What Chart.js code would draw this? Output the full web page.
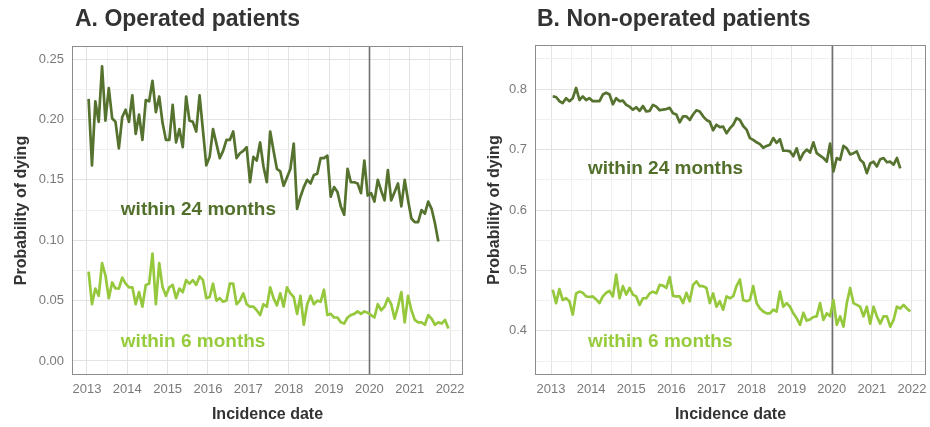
<!DOCTYPE html>
<html>
<head>
<meta charset="utf-8">
<script src="https://cdn.jsdelivr.net/npm/chart.js@4.4.1/dist/chart.umd.min.js"></script>
<style>
body{margin:0;background:#fff;width:930px;height:427px;overflow:hidden;position:relative}
canvas{position:absolute;top:0}
#chartA{left:0}
#chartB{left:465px}
</style>
</head>
<body>
<canvas id="chartA" width="465" height="427"></canvas>
<canvas id="chartB" width="465" height="427"></canvas>
<script>
// monthly estimates, starting Jan 2013
const startYear = 2013
const years = [2013, 2014, 2015, 2016, 2017, 2018, 2019, 2020, 2021, 2022]
const yTicksA = [0, 0.05, 0.10, 0.15, 0.20, 0.25]
const yTicksB = [0.4, 0.5, 0.6, 0.7, 0.8]

// A. operated patients
const op24 = [.217,.162,.215,.198,.244,.199,.226,.201,.198,.176,
  .202,.208,.198,.220,.188,.204,.183,.216,.215,.232,
  .206,.219,.197,.183,.183,.212,.181,.192,.177,.219,
  .199,.198,.190,.220,.191,.162,.169,.192,.180,.168,
  .174,.183,.183,.190,.168,.172,.174,.177,.148,.169,
  .166,.181,.161,.148,.190,.174,.159,.157,.145,.152,
  .159,.180,.126,.136,.144,.150,.147,.154,.155,.168,
  .168,.170,.136,.144,.140,.128,.121,.159,.148,.148,
  .147,.139,.166,.137,.139,.132,.150,.141,.133,.158,
  .133,.140,.147,.128,.150,.133,.118,.115,.115,.125,
  .122,.132,.126,.114,.099]
const op6 = [.074,.047,.060,.054,.081,.071,.052,.065,.060,.060,
  .069,.064,.061,.061,.047,.057,.045,.063,.064,.089,
  .047,.081,.061,.054,.061,.063,.052,.060,.057,.067,
  .064,.067,.063,.070,.067,.052,.053,.064,.050,.052,
  .049,.050,.064,.064,.047,.050,.056,.047,.045,.045,
  .042,.038,.047,.045,.061,.052,.046,.056,.045,.061,
  .056,.053,.039,.054,.030,.047,.054,.047,.050,.049,
  .059,.038,.039,.036,.036,.032,.031,.036,.038,.039,
  .041,.039,.041,.040,.038,.036,.047,.042,.045,.052,
  .047,.035,.045,.057,.032,.054,.042,.034,.032,.032,
  .030,.038,.035,.030,.032,.031,.034,.027]

// B. non-operated patients
const nonop24 = [.788,.787,.780,.777,.785,.780,.785,.802,.782,.788,
  .782,.785,.780,.780,.780,.791,.794,.791,.775,.785,
  .780,.781,.774,.771,.766,.770,.764,.772,.763,.764,
  .774,.771,.765,.766,.767,.769,.760,.758,.745,.755,
  .755,.749,.758,.765,.763,.755,.749,.746,.732,.741,
  .737,.738,.727,.735,.741,.752,.749,.739,.733,.719,
  .716,.712,.709,.703,.706,.708,.719,.711,.717,
  .698,.698,.697,.689,.702,.683,.694,.700,.695,.712,
  .694,.690,.686,.680,.710,.664,.686,.683,.706,.702,
  .692,.694,.697,.683,.678,.661,.677,.680,.672,.684,
  .686,.679,.680,.675,.686,.669]
const nonop6 = [.468,.446,.469,.451,.454,.449,.427,.462,.465,.463,
  .457,.456,.457,.452,.446,.457,.463,.466,.457,.493,
  .454,.474,.460,.471,.460,.457,.443,.454,.454,.462,
  .465,.462,.476,.475,.471,.489,.458,.457,.457,.446,
  .463,.449,.476,.482,.474,.474,.471,.446,.462,.440,
  .449,.435,.457,.454,.457,.474,.485,.451,.449,.451,
  .474,.446,.437,.432,.429,.429,.435,.432,.465,.440,
  .446,.440,.429,.421,.410,.430,.417,.419,.423,.424,
  .446,.418,.429,.424,.451,.410,.424,.407,.446,.471,
  .446,.443,.440,.424,.440,.412,.440,.424,.412,.424,
  .424,.407,.418,.440,.437,.443,.437,.432]

const darkGreen = '#55722e'
const lightGreen = '#95c83c'

Chart.defaults.font.family = "'Liberation Sans', Arial, sans-serif"

function monthly(vals) {
  return vals.map((v, i) => ({ x: startYear + (i + 0.5) / 12, y: v }))
}

// major ticks get a label, half steps are minor grid lines only
function withMinor(major, min, max) {
  let step = major[1] - major[0]
  let out = []
  for (let k = -1; k <= 2 * (major.length - 1) + 1; k++) {
    let v = major[0] + k * step / 2
    if (v >= min && v <= max) out.push({ value: v, lbl: k % 2 == 0 })
  }
  return out
}

// ticks labels may hang outside the box, don't let them shrink the plot
function noPad(s) {
  s.paddingLeft = 0
  s.paddingRight = 0
  s.paddingTop = 0
  s.paddingBottom = 0
}

const panelDeco = {
  id: 'panelDeco',
  beforeDatasetsDraw(chart, args, o) {
    const { ctx, chartArea: a, scales: { x } } = chart
    let px = Math.round(x.getPixelForValue(o.vline)) + 0.5
    ctx.save()
    ctx.strokeStyle = '#707070'
    ctx.lineWidth = 1.6
    ctx.beginPath()
    ctx.moveTo(px, a.top)
    ctx.lineTo(px, a.bottom)
    ctx.stroke()
    ctx.restore()
  },
  afterDraw(chart, args, o) {
    const { ctx, chartArea: a, scales: { x, y } } = chart
    ctx.save()
    ctx.strokeStyle = '#8c8c8c'
    ctx.lineWidth = 1
    ctx.strokeRect(a.left + 0.5, a.top + 0.5, a.right - a.left - 1, a.bottom - a.top - 1)
    ctx.fillStyle = '#333'
    ctx.font = "bold 23px 'Liberation Sans', Arial"
    ctx.textBaseline = 'alphabetic'
    ctx.fillText(o.title, o.titleX, 26)
    ctx.font = "bold 19px 'Liberation Sans', Arial"
    ctx.textBaseline = 'middle'
    o.labels.forEach(l => {
      ctx.fillStyle = l.color
      ctx.fillText(l.text, x.getPixelForValue(l.x), y.getPixelForValue(l.y))
    })
    ctx.restore()
  }
}

function makePanel(id, p) {
  const xTicks = withMinor(years, p.xMin, p.xMax)
  const yTicks = withMinor(p.yTicks, p.yMin, p.yMax)
  const gridColor = c => (c.tick && c.tick.lbl) ? '#e3e3e3' : '#f0f0f0'
  return new Chart(document.getElementById(id), {
    type: 'line',
    data: {
      datasets: [
        { data: monthly(p.s6), borderColor: lightGreen, borderWidth: 2.7, pointRadius: 0, borderJoinStyle: 'round' },
        { data: monthly(p.s24), borderColor: darkGreen, borderWidth: 2.7, pointRadius: 0, borderJoinStyle: 'round' }
      ]
    },
    options: {
      responsive: false,
      animation: false,
      devicePixelRatio: 1,
      layout: { padding: { top: p.top, right: p.right, left: 0, bottom: 0 } },
      plugins: {
        legend: { display: false },
        tooltip: { enabled: false },
        panelDeco: {
          vline: 2020,
          title: p.title,
          titleX: p.titleX,
          labels: [
            { text: 'within 24 months', x: p.labX, y: p.lab24, color: '#52702b' },
            { text: 'within 6 months', x: p.labX, y: p.lab6, color: '#96cc3c' }
          ]
        }
      },
      scales: {
        x: {
          type: 'linear', min: p.xMin, max: p.xMax,
          afterBuildTicks: s => { s.ticks = xTicks.map(t => ({ ...t })) },
          afterFit: s => { s.height = 52; noPad(s) },
          ticks: { autoSkip: false, maxRotation: 0, padding: 7, color: '#7a7a7a', font: { size: 13 },
            callback: (v, i, t) => t[i].lbl ? String(v) : '' },
          grid: { drawTicks: false, color: gridColor },
          border: { display: false },
          title: { display: true, text: 'Incidence date', color: '#333', font: { size: 16, weight: 'bold' }, padding: { top: 0, bottom: 3 } }
        },
        y: {
          min: p.yMin, max: p.yMax,
          afterBuildTicks: s => { s.ticks = yTicks.map(t => ({ ...t })) },
          afterFit: s => { s.width = p.yWidth; noPad(s) },
          ticks: { autoSkip: false, padding: 8, color: '#7a7a7a', font: { size: 13 },
            callback: (v, i, t) => t[i].lbl ? v.toFixed(p.dec) : '' },
          grid: { drawTicks: false, color: gridColor },
          border: { display: false },
          title: { display: true, text: 'Probability of dying', color: '#333', font: { size: 16, weight: 'bold' }, padding: { top: p.yTitlePad, bottom: 0 } }
        }
      }
    },
    plugins: [panelDeco]
  })
}

makePanel('chartA', {
  title: 'A. Operated patients', titleX: 75,
  s24: op24, s6: op6,
  xMin: 2012.63, xMax: 2022.32, yMin: -0.0116, yMax: 0.2608,
  yTicks: yTicksA, dec: 2,
  top: 46, right: 2, yWidth: 72, yTitlePad: 12,
  labX: 2013.84, lab24: 0.125, lab6: 0.0157
})

makePanel('chartB', {
  title: 'B. Non-operated patients', titleX: 72,
  s24: nonop24, s6: nonop6,
  xMin: 2012.6, xMax: 2022.35, yMin: 0.327, yMax: 0.873,
  yTicks: yTicksB, dec: 1,
  top: 45, right: 4, yWidth: 70, yTitlePad: 20,
  labX: 2013.92, lab24: 0.669, lab6: 0.382
})
</script>
</body>
</html>
